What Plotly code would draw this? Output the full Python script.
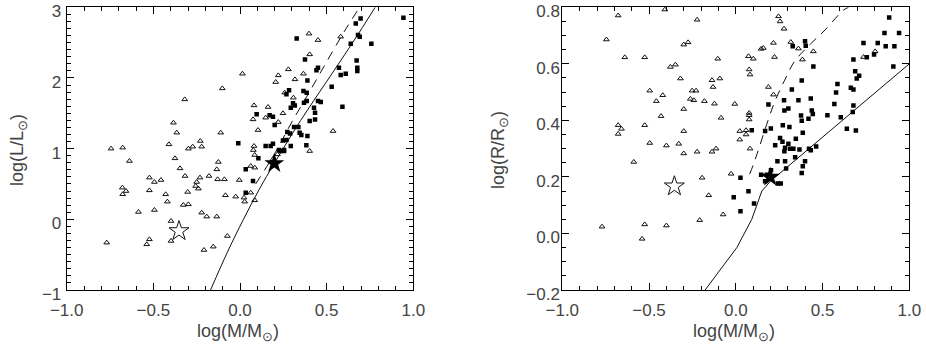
import plotly.graph_objects as go

# ---------------- Left panel: log(L/Lsun) vs log(M/Msun) ----------------
left_tri_x = [-0.102, -0.319, -0.384, -0.365, -0.111, -0.41, -0.298, -0.273, -0.229, -0.221,
              -0.744, -0.677, -0.638, -0.375, -0.346, -0.125, -0.134, -0.317, -0.231, -0.179,
              -0.129, -0.09, -0.004, -0.523, -0.494, -0.456, -0.679, -0.658, -0.677, -0.523,
              -0.25, -0.256, -0.24, -0.302, -0.429, -0.419, -0.327, -0.298, -0.084, -0.025,
              -0.586, -0.494, -0.221, -0.192, -0.134, -0.398, -0.769, -0.523, -0.538, -0.398,
              -0.208, -0.154, -0.073,
              0.014, 0.081, 0.075, 0.162, 0.148, 0.104, 0.221, 0.248, 0.206, 0.221,
              0.279, 0.258, 0.308, 0.317, 0.366, 0.402, 0.398, 0.45, 0.537, 0.581,
              0.402, 0.081, 0.077, 0.085, 0.062, 0.085, 0.023, 0.027, 0.062, 0.085,
              0.216, 0.19]
left_tri_y = [1.853, 1.697, 1.367, 1.226, 1.226, 1.061, 1.0, 1.028, 1.108, 1.028,
              1.0, 1.014, 0.825, 0.863, 0.721, 0.811, 0.707, 0.613, 0.59, 0.613,
              0.566, 0.566, 0.556, 0.59, 0.528, 0.556, 0.448, 0.4, 0.354, 0.41,
              0.528, 0.471, 0.434, 0.387, 0.354, 0.25, 0.203, 0.212, 0.34, 0.321,
              0.104, 0.132, 0.094, 0.038, 0.038, -0.024, -0.33, -0.283, -0.354, -0.306,
              -0.434, -0.387, -0.236,
              2.06, 1.612, 1.414, 1.589, 1.438, 1.263, 1.376, 1.5, 1.942, 2.037,
              2.122, 1.792, 1.721, 1.98, 2.06, 2.334, 2.627, 2.536, 1.249, 2.584,
              0.966, 1.037, 0.98, 0.91, 0.754, 0.731, 0.307, 0.25, 0.377, 0.269,
              0.919, 0.85]

left_sq_x = [-0.01, 0.696, 0.668, 0.943, 0.681, 0.691, 0.758, 0.639, 0.327, 0.375,
             0.45, 0.441, 0.571, 0.581, 0.61, 0.673, 0.677, 0.677, 0.529, 0.591,
             0.389, 0.366, 0.385, 0.283, 0.268, 0.306, 0.316, 0.293, 0.369, 0.385,
             0.45, 0.466, 0.427, 0.433, 0.402, 0.433, 0.096, 0.171, 0.19, 0.2,
             0.312, 0.337, 0.273, 0.289, 0.344, 0.354, 0.389, 0.248, 0.268, 0.293,
             0.19, 0.177, 0.148, 0.225, 0.254, 0.383, 0.106, 0.033, 0.075, 0.033,
             0.235, 0.254]
left_sq_y = [1.075, 2.843, 2.772, 2.853, 2.607, 2.584, 2.485, 2.485, 2.56, 2.263,
             2.145, 2.108, 2.145, 2.041, 2.06, 2.249, 2.145, 2.098, 1.877, 1.594,
             1.966, 1.815, 1.792, 1.825, 1.768, 1.641, 1.612, 1.58, 1.65, 1.673,
             1.673, 1.659, 1.58, 1.509, 1.39, 1.414, 1.485, 1.471, 1.452, 1.334,
             1.306, 1.306, 1.235, 1.216, 1.226, 1.193, 1.179, 1.117, 1.122, 1.037,
             1.07, 1.037, 1.037, 0.98, 0.98, 1.047, 0.863, 0.707, 0.542, 0.377,
             0.966, 0.966]

left_open_star = ([-0.352], [-0.165])
left_fill_star = ([0.198], [0.79])

left_solid_x = [-0.17, -0.07, 0.02, 0.11, 0.20, 0.35, 0.50, 0.65, 0.78]
left_solid_y = [-1.0, -0.45, 0.0, 0.42, 0.80, 1.40, 1.95, 2.50, 3.0]
left_dash_x = [0.09, 0.20, 0.30, 0.40, 0.50, 0.60, 0.69]
left_dash_y = [0.50, 0.93, 1.38, 1.80, 2.23, 2.65, 3.0]

# ---------------- Right panel: log(R/Rsun) vs log(M/Msun) ----------------
right_tri_x = [-0.678, -0.409, -0.223, -0.746, -0.3, -0.275, -0.64, -0.525, -0.104, -0.377,
               -0.348, -0.319, -0.137, -0.092, -0.131, -0.252, -0.229, -0.496, -0.421, -0.458,
               -0.262, -0.242, -0.181, -0.123, -0.006, -0.3, -0.431, -0.085, -0.678, -0.659,
               -0.678, -0.525, -0.3, 0.023, 0.023, -0.496, -0.4, -0.329, -0.3, -0.223,
               -0.137, -0.114, -0.588, -0.194, -0.027, -0.156, -0.073, -0.208, -0.771, -0.525,
               -0.4, -0.54,
               0.246, 0.255, 0.278, 0.217, 0.159, 0.146, 0.073, 0.101, 0.223, 0.317,
               0.361, 0.384, 0.447, 0.077, 0.082, 0.188, 0.217, 0.077, 0.077, 0.077,
               0.059, 0.059, 0.082, 0.736, 0.803]
right_tri_y = [0.771, 0.792, 0.756, 0.686, 0.668, 0.676, 0.623, 0.623, 0.618, 0.589,
               0.597, 0.548, 0.542, 0.548, 0.518, 0.505, 0.505, 0.505, 0.489, 0.468,
               0.476, 0.471, 0.468, 0.459, 0.458, 0.44, 0.415, 0.409, 0.383, 0.37,
               0.352, 0.383, 0.362, 0.362, 0.332, 0.32, 0.311, 0.317, 0.283, 0.289,
               0.289, 0.3, 0.253, 0.197, 0.211, 0.135, 0.067, 0.047, 0.024, 0.032,
               0.028, -0.019,
               0.768, 0.75, 0.724, 0.674, 0.656, 0.653, 0.627, 0.618, 0.624, 0.677,
               0.654, 0.615, 0.644, 0.58, 0.562, 0.518, 0.491, 0.426, 0.418, 0.403,
               0.365, 0.35, 0.3, 0.624, 0.644]

right_sq_x = [0.027, -0.012, 0.027, 0.884, 0.857, 0.941, 0.736, 0.818, 0.864, 0.914,
              0.328, 0.399, 0.403, 0.447, 0.678, 0.797, 0.755, 0.908, 0.688, 0.711,
              0.697, 0.38, 0.586, 0.323, 0.578, 0.663, 0.678, 0.432, 0.361, 0.278,
              0.188, 0.568, 0.678, 0.303, 0.28, 0.438, 0.444, 0.376, 0.419, 0.528,
              0.605, 0.674, 0.38, 0.092, 0.169, 0.202, 0.271, 0.309, 0.386, 0.346,
              0.64, 0.692, 0.255, 0.269, 0.303, 0.227, 0.284, 0.313, 0.332, 0.367,
              0.422, 0.432, 0.463, 0.28, 0.342, 0.24, 0.284, 0.399, 0.386, 0.29,
              0.38, 0.179, 0.203, 0.169, 0.242, 0.259, 0.073, 0.105, 0.146]
right_sq_y = [0.197, 0.128, 0.079, 0.764, 0.709, 0.709, 0.674, 0.674, 0.662, 0.662,
              0.662, 0.68, 0.664, 0.591, 0.615, 0.633, 0.623, 0.591, 0.574, 0.558,
              0.548, 0.541, 0.529, 0.509, 0.499, 0.515, 0.509, 0.477, 0.471, 0.471,
              0.456, 0.458, 0.453, 0.442, 0.435, 0.435, 0.423, 0.417, 0.406, 0.418,
              0.411, 0.43, 0.399, 0.365, 0.362, 0.371, 0.383, 0.377, 0.356, 0.335,
              0.37, 0.364, 0.338, 0.324, 0.317, 0.312, 0.303, 0.3, 0.3, 0.297,
              0.3, 0.294, 0.308, 0.291, 0.27, 0.255, 0.255, 0.255, 0.238, 0.23,
              0.214, 0.208, 0.224, 0.185, 0.177, 0.177, 0.149, 0.106, 0.208]

right_open_star = ([-0.354], [0.167])
right_fill_star = ([0.198], [0.2])

right_solid_x = [-0.177, -0.09, 0.006, 0.092, 0.15, 0.20, 1.0]
right_solid_y = [-0.2, -0.13, -0.05, 0.05, 0.15, 0.185, 0.60]
right_dash_x = [0.08, 0.105, 0.186, 0.227, 0.28, 0.34, 0.43, 0.515, 0.62, 0.65]
right_dash_y = [0.21, 0.25, 0.40, 0.47, 0.54, 0.61, 0.67, 0.72, 0.79, 0.80]

x_ticks = [-1.0, -0.5, 0.0, 0.5, 1.0]
x_ticklabels = ["\u22121.0", "\u22120.5", "0.0", "0.5", "1.0"]
yl_ticks = [-1, 0, 1, 2, 3]
yl_ticklabels = ["\u22121", "0", "1", "2", "3"]
yr_ticks = [-0.2, 0.0, 0.2, 0.4, 0.6, 0.8]
yr_ticklabels = ["\u22120.2", "0.0", "0.2", "0.4", "0.6", "0.8"]

INK = "#111111"
TXT = "#444444"
FONT = "Liberation Sans"

fig = go.Figure()


def add_panel(xa, ya, tx, ty, sx, sy, ostar, fstar, lx, ly, dx, dy, solid_shape):
    fig.add_trace(go.Scatter(x=lx, y=ly, mode="lines", xaxis=xa, yaxis=ya,
                             line=dict(color=INK, width=1, shape=solid_shape),
                             showlegend=False, hoverinfo="skip"))
    fig.add_trace(go.Scatter(x=dx, y=dy, mode="lines", xaxis=xa, yaxis=ya,
                             line=dict(color=INK, width=1, dash="9px,7px", shape="spline"),
                             showlegend=False, hoverinfo="skip"))
    fig.add_trace(go.Scatter(x=tx, y=ty, mode="markers", xaxis=xa, yaxis=ya,
                             marker=dict(symbol="triangle-up-open", size=5, color=INK,
                                         line=dict(width=1, color=INK)),
                             showlegend=False))
    fig.add_trace(go.Scatter(x=sx, y=sy, mode="markers", xaxis=xa, yaxis=ya,
                             marker=dict(symbol="square", size=4.5, color="#000000",
                                         line=dict(width=0)),
                             showlegend=False))
    fig.add_trace(go.Scatter(x=ostar[0], y=ostar[1], mode="markers", xaxis=xa, yaxis=ya,
                             marker=dict(symbol="star-open", size=15, color=INK,
                                         line=dict(width=1, color=INK)),
                             showlegend=False))
    fig.add_trace(go.Scatter(x=fstar[0], y=fstar[1], mode="markers", xaxis=xa, yaxis=ya,
                             marker=dict(symbol="star", size=15, color="#000000",
                                         line=dict(width=0)),
                             showlegend=False))


add_panel("x", "y", left_tri_x, left_tri_y, left_sq_x, left_sq_y, left_open_star, left_fill_star,
          left_solid_x, left_solid_y, left_dash_x, left_dash_y, "spline")
add_panel("x2", "y2", right_tri_x, right_tri_y, right_sq_x, right_sq_y, right_open_star,
          right_fill_star, right_solid_x, right_solid_y, right_dash_x, right_dash_y, "linear")

axis_common = dict(showline=True, linecolor="#000000", linewidth=1, mirror="ticks",
                   ticks="inside", ticklen=7, tickwidth=1, tickcolor="#000000",
                   showgrid=False, zeroline=False, automargin=False,
                   ticklabeloverflow="allow",
                   tickfont=dict(family=FONT, size=17, color=TXT))

Y0, Y1 = 55 / 345, 337.7 / 345

fig.update_layout(
    width=926, height=345,
    margin=dict(l=0, r=0, t=0, b=0),
    paper_bgcolor="white", plot_bgcolor="white",
    xaxis=dict(domain=[66.7 / 926, 413.3 / 926], range=[-1, 1], anchor="y",
               tickvals=x_ticks, ticktext=x_ticklabels, ticklabelstandoff=5,
               minor=dict(dtick=0.1, tick0=0, ticks="inside", ticklen=4, tickcolor="#000000"),
               **axis_common),
    yaxis=dict(domain=[Y0, Y1], range=[-1, 3], anchor="x",
               tickvals=yl_ticks, ticktext=yl_ticklabels, ticklabelstandoff=1,
               ticklabelshift=4,
               minor=dict(dtick=0.1, tick0=0, ticks="inside", ticklen=4, tickcolor="#000000"),
               **axis_common),
    xaxis2=dict(domain=[562.3 / 926, 909.3 / 926], range=[-1, 1], anchor="y2",
                tickvals=x_ticks, ticktext=x_ticklabels, ticklabelstandoff=5,
                minor=dict(dtick=0.1, tick0=0, ticks="inside", ticklen=4, tickcolor="#000000"),
                **axis_common),
    yaxis2=dict(domain=[Y0, Y1], range=[-0.2, 0.8], anchor="x2",
                tickvals=yr_ticks, ticktext=yr_ticklabels, ticklabelstandoff=-2,
                ticklabelshift=4,
                minor=dict(dtick=0.05, tick0=0, ticks="inside", ticklen=4, tickcolor="#000000"),
                **axis_common),
)

title_font = dict(family=FONT, size=18, color=TXT)
fig.add_annotation(text="log(M/M<sub>\u2299</sub>)", xref="paper", yref="paper",
                   x=238 / 926, y=(345 - 332) / 345, showarrow=False, font=title_font,
                   xanchor="center", yanchor="middle")
fig.add_annotation(text="log(M/M<sub>\u2299</sub>)", xref="paper", yref="paper",
                   x=734 / 926, y=(345 - 332) / 345, showarrow=False, font=title_font,
                   xanchor="center", yanchor="middle")
fig.add_annotation(text="log(L/L<sub>\u2299</sub>)", xref="paper", yref="paper",
                   x=18 / 926, y=(345 - 150) / 345, showarrow=False, font=title_font,
                   textangle=-90, xanchor="center", yanchor="middle")
fig.add_annotation(text="log(R/R<sub>\u2299</sub>)", xref="paper", yref="paper",
                   x=499 / 926, y=(345 - 150) / 345, showarrow=False, font=title_font,
                   textangle=-90, xanchor="center", yanchor="middle")

fig.write_html("out.html", config={"displayModeBar": False},
               post_script="document.body.style.margin='0';document.body.style.padding='0';")
